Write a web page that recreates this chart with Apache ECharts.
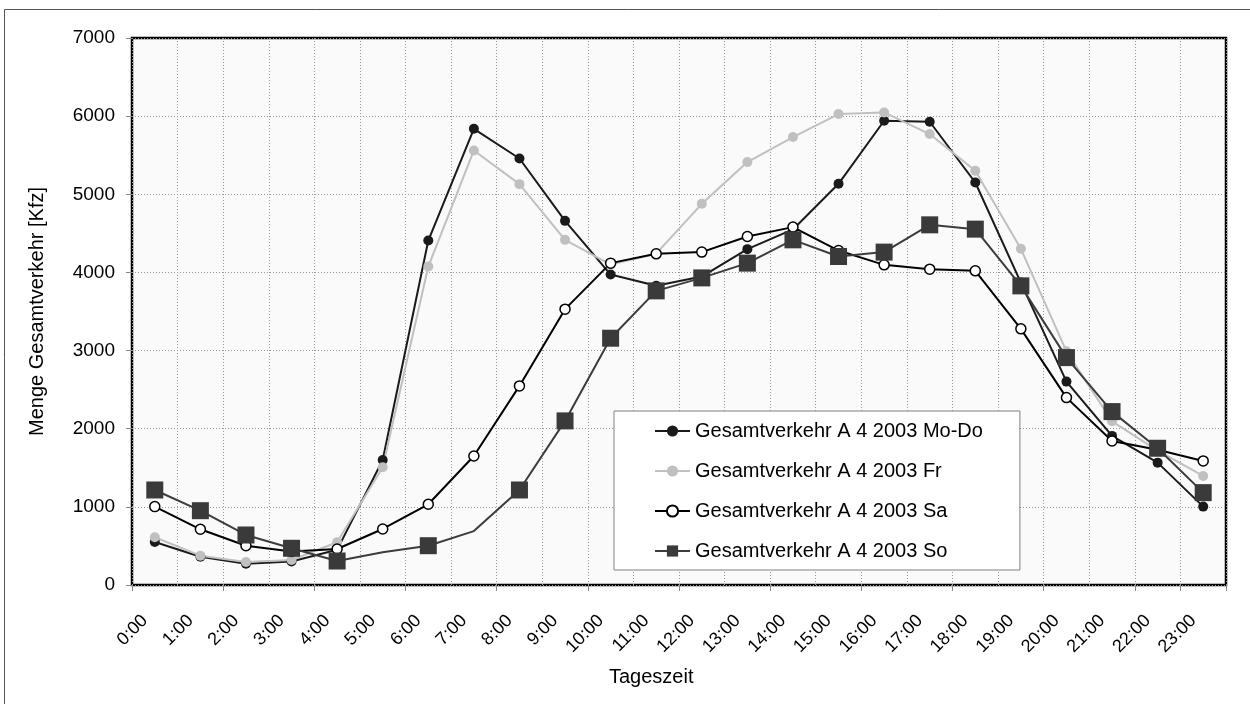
<!DOCTYPE html>
<html>
<head>
<meta charset="utf-8">
<script src="https://cdn.jsdelivr.net/npm/echarts@6/dist/echarts.min.js"></script>
<style>
  html, body { margin: 0; padding: 0; background: #fff; }
  #myChart { width: 1250px; height: 704px; }
</style>
</head>
<body>
<div id="myChart"></div>
<script type="text/javascript">
// Tageszeiten (x-Achse)
var hours = ['0:00','1:00','2:00','3:00','4:00','5:00','6:00','7:00','8:00','9:00','10:00','11:00',
             '12:00','13:00','14:00','15:00','16:00','17:00','18:00','19:00','20:00','21:00','22:00','23:00'];

// Werte je Tagtyp [Kfz]
var moDo = [550, 362, 272, 300, 450, 1600, 4408, 5838, 5458, 4660, 3973, 3830,
            3947, 4298, 4550, 5134, 5941, 5928, 5151, 3870, 2603, 1908, 1566, 1003];
var fr   = [611, 375, 294, 320, 547, 1507, 4075, 5561, 5130, 4417, 4100, 4240,
            4878, 5412, 5732, 6027, 6047, 5771, 5301, 4302, 2990, 2095, 1720, 1396];
var sa   = [1003, 713, 503, 430, 461, 717, 1033, 1651, 2548, 3530, 4119, 4238,
            4260, 4460, 4580, 4280, 4097, 4042, 4020, 3278, 2398, 1843, 1730, 1588];
var so   = [1216, 951, 640, 470, 307, 420, 503, 690, 1216, 2100, 3158, 3764,
            3930, 4119, 4417, 4204, 4260, 4609, 4554, 3828, 2910, 2219, 1750, 1182];
// Punkte ohne Marker (So-Reihe)
var soNoMarker = [5, 7];

var names = ['Gesamtverkehr A 4 2003 Mo-Do', 'Gesamtverkehr A 4 2003 Fr',
             'Gesamtverkehr A 4 2003 Sa', 'Gesamtverkehr A 4 2003 So'];

var font = "'Liberation Sans', Arial, sans-serif";

var soData = so.map(function (v, i) {
    return soNoMarker.indexOf(i) >= 0 ? { value: v, symbol: 'none' } : v;
});

var option = {
    animation: false,
    textStyle: { fontFamily: font, color: '#000' },
    graphic: [
        {
            type: 'rect', z: -10, silent: true,
            shape: { x: 4.5, y: 9.5, width: 1280, height: 720 },
            style: { fill: '#fff', stroke: '#555', lineWidth: 1 }
        },
        {
            type: 'text', left: 609, top: 667, silent: true,
            style: { text: 'Tageszeit', font: "20px 'Liberation Sans Narrow', 'Liberation Sans', Arial", fill: '#000' }
        }
    ],
    grid: {
        left: 132, right: 24, top: 38, bottom: 119,
        show: true, backgroundColor: '#fafafa', borderColor: '#000', borderWidth: 2.5
    },
    legend: {
        orient: 'vertical',
        left: 614, top: 411,
        padding: [10, 37, 9, 40],
        itemWidth: 35, itemHeight: 14, itemGap: 20,
        backgroundColor: '#fff', borderColor: '#808080', borderWidth: 1,
        textStyle: { fontFamily: font, fontSize: 20, color: '#000' },
        data: names
    },
    xAxis: {
        type: 'category',
        data: hours,
        boundaryGap: true,
        axisLine: { show: false },
        axisTick: { show: true, interval: 1, length: 6, lineStyle: { color: '#888' } },
        axisLabel: {
            interval: 0, rotate: 45, margin: 23, padding: [0, 14, 0, 0],
            fontFamily: font, fontSize: 18, color: '#000'
        },
        splitLine: { show: true, interval: 0, lineStyle: { color: '#999', type: [1, 2] } }
    },
    yAxis: {
        type: 'value',
        min: 0, max: 7000, interval: 1000,
        name: 'Menge Gesamtverkehr [Kfz]',
        nameLocation: 'middle', nameGap: 85, nameRotate: 90,
        nameTextStyle: { fontFamily: font, fontSize: 20, color: '#000' },
        axisLine: { show: false },
        axisTick: { show: true, length: 6, lineStyle: { color: '#888' } },
        axisLabel: {
            margin: 17, fontFamily: font, fontSize: 19, color: '#000',
            formatter: function (v) { return String(v); }
        },
        splitLine: { show: true, lineStyle: { color: '#999', type: [1, 2] } }
    },
    series: [
        {
            name: names[0], type: 'line', data: moDo,
            symbol: 'circle', symbolSize: 10, showAllSymbol: true,
            lineStyle: { color: '#1a1a1a', width: 2 },
            itemStyle: { color: '#1a1a1a', borderWidth: 0 }
        },
        {
            name: names[1], type: 'line', data: fr,
            symbol: 'circle', symbolSize: 10, showAllSymbol: true,
            lineStyle: { color: '#c0c0c0', width: 2 },
            itemStyle: { color: '#c0c0c0', borderWidth: 0 }
        },
        {
            name: names[2], type: 'line', data: sa,
            symbol: 'circle', symbolSize: 10, showAllSymbol: true,
            lineStyle: { color: '#000', width: 2 },
            itemStyle: { color: '#fff', borderColor: '#000', borderWidth: 1.5 }
        },
        {
            name: names[3], type: 'line', data: soData,
            symbol: 'rect', symbolSize: 17, showAllSymbol: true,
            lineStyle: { color: '#3c3c3c', width: 2 },
            itemStyle: { color: '#3a3a3a', borderWidth: 0 }
        }
    ]
};

echarts.init(document.getElementById('myChart')).setOption(option);
</script>
</body>
</html>
